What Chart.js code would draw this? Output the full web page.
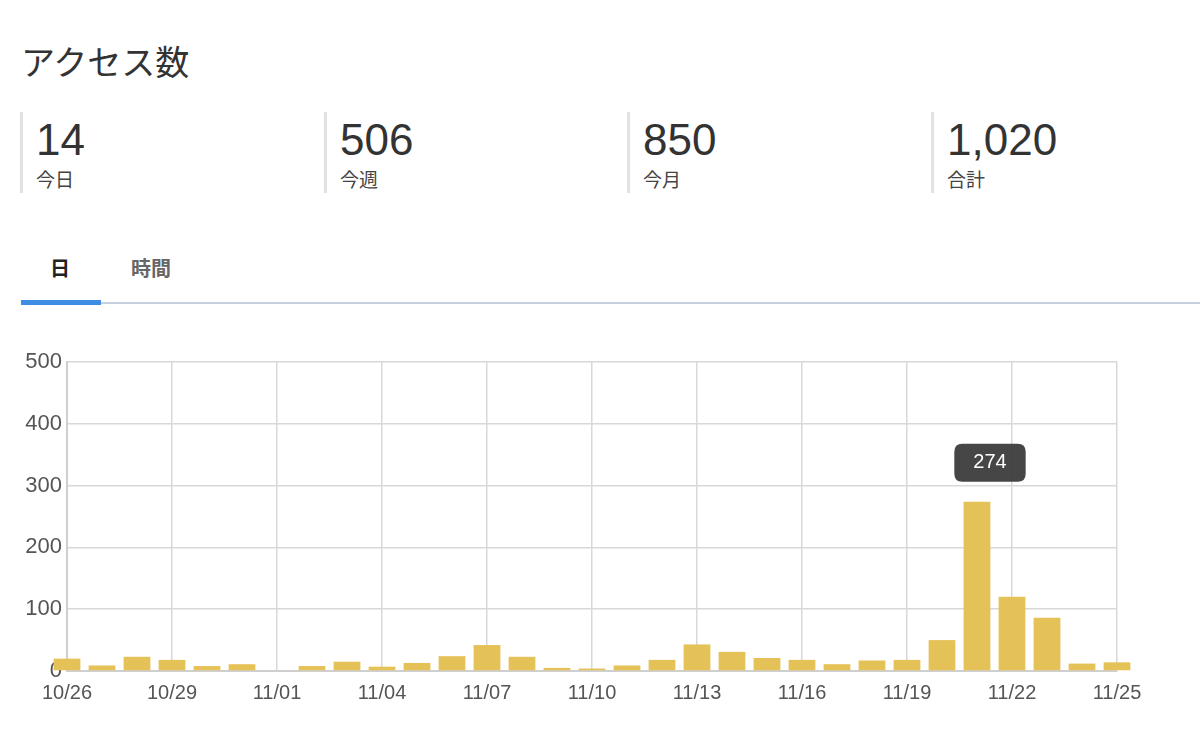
<!DOCTYPE html>
<html lang="ja">
<head>
<meta charset="utf-8">
<title>アクセス数</title>
<script src="https://cdn.jsdelivr.net/npm/chart.js@4"></script>
<style>
  html, body { margin: 0; padding: 0; background: #fff; }
  body { width: 1200px; height: 747px; position: relative; overflow: hidden;
         font-family: "Liberation Sans", "Noto Sans CJK JP", sans-serif; color: #333; }
  .title { position: absolute; left: 21px; top: 42px; font-size: 34px; line-height: 42px; color: #333; }
  .stat { position: absolute; top: 112px; height: 81px; border-left: 3px solid #e2e2e2; padding-left: 13px; }
  .stat .num { font-size: 44px; line-height: 50px; margin-top: 3px; color: #333; }
  .stat .lbl { font-size: 19px; line-height: 24px; margin-top: 4px; color: #444; }
  .tab { position: absolute; top: 254px; font-size: 20px; line-height: 30px; font-weight: bold; }
  .tabline { position: absolute; left: 101px; top: 302px; width: 1099px; height: 2px; background: #c7d0de; }
  .tabactive { position: absolute; left: 21px; top: 300px; width: 80px; height: 5px; background: #3d8ee3; }
  #wrap { position: absolute; left: 0; top: 340px; width: 1200px; height: 380px; }
</style>
</head>
<body>
<div class="title">アクセス数</div>
<div class="stat" style="left:20px"><div class="num">14</div><div class="lbl">今日</div></div>
<div class="stat" style="left:324px"><div class="num">506</div><div class="lbl">今週</div></div>
<div class="stat" style="left:627px"><div class="num">850</div><div class="lbl">今月</div></div>
<div class="stat" style="left:931px"><div class="num">1,020</div><div class="lbl">合計</div></div>
<div class="tab" style="left:50px;color:#222">日</div>
<div class="tab" style="left:131px;color:#666">時間</div>
<div class="tabline"></div>
<div class="tabactive"></div>
<div id="wrap"><canvas id="myChart_bar"></canvas></div>
<script>
var days = ["10/26", "10/27", "10/28", "10/29", "10/30", "10/31",
    "11/01", "11/02", "11/03", "11/04", "11/05", "11/06", "11/07", "11/08",
    "11/09", "11/10", "11/11", "11/12", "11/13", "11/14", "11/15", "11/16",
    "11/17", "11/18", "11/19", "11/20", "11/21", "11/22", "11/23", "11/24", "11/25"];
var visits = [20, 9, 23, 18, 8, 11,
    0, 8, 15, 7, 13, 24, 42, 23,
    5, 4, 9, 18, 43, 31, 21, 18,
    11, 17, 18, 50, 274, 120, 86, 12, 14];
var yTicks = [0, 100, 200, 300, 400, 500];
var barColor = "#e5c257";
var activeDay = "11/21";

Chart.defaults.font.family = '"Liberation Sans", "Noto Sans CJK JP", sans-serif';

// tooltip sits where the finger touched, a little right of the bar centre
Chart.Tooltip.positioners.touchPoint = function (items) {
    if (!items.length) return false;
    var el = items[0].element;
    return { x: el.x + 13, y: el.y };
};

var chart = new Chart("myChart_bar", {
    type: "bar",
    data: {
        labels: days,
        datasets: [
            {
                data: visits,
                backgroundColor: barColor,
                categoryPercentage: 0.9,
                barPercentage: 0.85,
                clip: false,
            },
        ],
    },
    options: {
        responsive: true,
        maintainAspectRatio: false,
        animation: false,
        events: [],
        layout: {
            padding: { left: 0, right: 83, top: 22, bottom: 9 },
        },
        plugins: {
            legend: { display: false },
            tooltip: {
                position: "touchPoint",
                yAlign: "bottom",
                xAlign: "center",
                caretSize: 0,
                caretPadding: 20,
                cornerRadius: 8,
                padding: { x: 19, y: 7 },
                backgroundColor: "rgba(62,62,62,0.96)",
                bodyColor: "#fff",
                bodyFont: { size: 20 },
                displayColors: false,
                callbacks: {
                    title: function () { return ""; },
                    label: function (ctx) { return String(ctx.parsed.y); },
                },
            },
        },
        scales: {
            x: {
                offset: false,
                grid: { offset: false, color: "#d8d8d8", lineWidth: 1.5, drawTicks: false },
                border: { color: "#cfcfcf", width: 2 },
                ticks: {
                    autoSkip: false,
                    maxRotation: 0,
                    padding: 10,
                    color: "#555",
                    font: { size: 20 },
                    callback: function (value, index) {
                        return index % 3 === 0 ? days[index] : null;
                    },
                },
                afterFit: function (scale) { scale.height = 40; },
            },
            y: {
                min: yTicks[0],
                max: yTicks[yTicks.length - 1],
                grid: { color: "#d8d8d8", lineWidth: 1.5, drawTicks: false },
                border: { color: "#cfcfcf", width: 2 },
                afterBuildTicks: function (scale) {
                    scale.ticks = yTicks.map(function (v) { return { value: v }; });
                },
                ticks: {
                    padding: 5,
                    color: "#555",
                    font: { size: 22 },
                },
                afterFit: function (scale) { scale.width = 67; },
            },
        },
    },
});

chart.tooltip.setActiveElements([{ datasetIndex: 0, index: days.indexOf(activeDay) }], { x: 0, y: 0 });
chart.update();
</script>
</body>
</html>
